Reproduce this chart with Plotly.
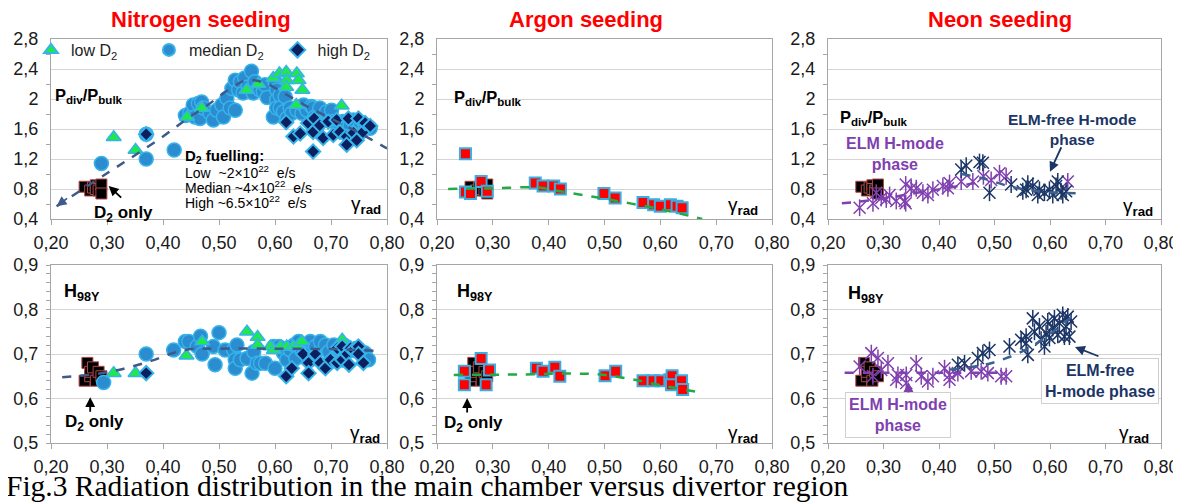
import plotly.graph_objects as go

# ---------------- DATA ----------------
# Nitrogen seeding, P_div/P_bulk vs gamma_rad
n_top_low_x = [0.312, 0.351, 0.443, 0.469, 0.549, 0.570, 0.597, 0.608, 0.620, 0.621, 0.620, 0.639, 0.642, 0.649, 0.638, 0.719]
n_top_low_y = [1.49, 1.32, 1.76, 1.88, 2.12, 2.20, 2.28, 2.34, 2.36, 2.25, 2.16, 2.34, 2.25, 2.12, 1.92, 1.91]
n_top_med_x = [0.29, 0.37, 0.37, 0.42, 0.44, 0.448, 0.454, 0.457, 0.463, 0.466, 0.469, 0.472, 0.484, 0.49, 0.496,
               0.505, 0.508, 0.514, 0.52, 0.523, 0.529, 0.529, 0.535, 0.538, 0.543, 0.546, 0.552, 0.558, 0.561,
               0.564, 0.573, 0.579, 0.582, 0.586, 0.597, 0.60, 0.603, 0.603, 0.603, 0.609, 0.609, 0.615, 0.618,
               0.621, 0.627, 0.63, 0.639, 0.648, 0.651, 0.657, 0.665, 0.668, 0.671, 0.68, 0.686, 0.692, 0.701,
               0.704, 0.716, 0.722, 0.734, 0.74, 0.752, 0.761, 0.77]
n_top_med_y = [1.14, 1.53, 1.20, 1.32, 1.78, 1.81, 1.92, 1.76, 1.94, 1.74, 1.96, 1.88, 1.81, 1.72, 1.85,
               1.92, 1.76, 2.01, 1.88, 2.14, 2.25, 1.85, 2.12, 2.23, 2.08, 2.28, 2.16, 2.37, 2.08,
               2.23, 2.12, 2.10, 2.19, 2.02, 1.76, 2.23, 2.12, 1.99, 1.88, 2.05, 1.88, 1.83, 2.03,
               1.74, 1.88, 1.81, 1.85, 1.81, 1.92, 1.85, 1.90, 1.88, 1.76, 1.88, 1.76, 1.83, 1.85,
               1.70, 1.63, 1.70, 1.65, 1.72, 1.63, 1.63, 1.61]
n_top_high_x = [0.37, 0.62, 0.633, 0.645, 0.659, 0.668, 0.668, 0.67, 0.68, 0.686, 0.695, 0.704, 0.71, 0.716,
                0.728, 0.728, 0.731, 0.74, 0.746, 0.749, 0.757, 0.761, 0.77]
n_top_high_y = [1.53, 1.69, 1.50, 1.54, 1.68, 1.56, 1.30, 1.74, 1.65, 1.48, 1.70, 1.52, 1.72, 1.56,
                1.50, 1.39, 1.74, 1.55, 1.45, 1.74, 1.56, 1.68, 1.64]
n_top_fit_x = [0.21, 0.30, 0.35, 0.40, 0.44, 0.48, 0.52, 0.55, 0.58, 0.62, 0.66, 0.70, 0.75, 0.80]
n_top_fit_y = [0.57, 1.01, 1.25, 1.50, 1.72, 1.92, 2.14, 2.25, 2.22, 2.06, 1.89, 1.74, 1.55, 1.34]

# Nitrogen seeding, H98Y
n_bot_low_x = [0.312, 0.351, 0.442, 0.47, 0.55, 0.569, 0.569, 0.592, 0.598, 0.61, 0.621, 0.633, 0.642, 0.648, 0.72]
n_bot_low_y = [0.657, 0.657, 0.696, 0.728, 0.750, 0.738, 0.720, 0.717, 0.709, 0.717, 0.717, 0.717, 0.720, 0.728, 0.732]
n_bot_med_x = [0.294, 0.37, 0.419, 0.44, 0.446, 0.461, 0.467, 0.47, 0.49, 0.493, 0.50, 0.511, 0.526, 0.529,
               0.529, 0.532, 0.538, 0.55, 0.559, 0.562, 0.568, 0.574, 0.583, 0.598, 0.60, 0.607, 0.615,
               0.621, 0.627, 0.634, 0.637, 0.642, 0.648, 0.657, 0.663, 0.663, 0.672, 0.681, 0.69, 0.696,
               0.705, 0.714, 0.723, 0.738, 0.746, 0.761, 0.767]
n_bot_med_y = [0.636, 0.700, 0.709, 0.728, 0.728, 0.717, 0.740, 0.700, 0.717, 0.676, 0.748, 0.709, 0.709, 0.687,
               0.668, 0.720, 0.687, 0.690, 0.657, 0.705, 0.679, 0.679, 0.679, 0.717, 0.668, 0.717, 0.702,
               0.687, 0.709, 0.720, 0.690, 0.728, 0.709, 0.720, 0.728, 0.687, 0.717, 0.728, 0.720, 0.705,
               0.720, 0.709, 0.720, 0.709, 0.713, 0.702, 0.687]
n_bot_high_x = [0.37, 0.62, 0.63, 0.65, 0.66, 0.66, 0.672, 0.681, 0.69, 0.699, 0.711, 0.711, 0.72, 0.72,
                0.729, 0.732, 0.735, 0.74, 0.749, 0.749, 0.758]
n_bot_high_y = [0.657, 0.650, 0.668, 0.700, 0.680, 0.657, 0.700, 0.680, 0.668, 0.687, 0.680, 0.713, 0.717, 0.687,
                0.700, 0.676, 0.713, 0.709, 0.717, 0.700, 0.680]
n_bot_fit_x = [0.22, 0.28, 0.33, 0.38, 0.42, 0.45, 0.50, 0.60, 0.70, 0.78]
n_bot_fit_y = [0.648, 0.655, 0.667, 0.685, 0.703, 0.711, 0.712, 0.712, 0.711, 0.707]

# D2-only reference discharges (shown in every panel)
d2_top_x = [0.26, 0.27, 0.275, 0.28, 0.28, 0.285, 0.29, 0.29]
d2_top_y = [0.83, 0.78, 0.82, 0.85, 0.80, 0.78, 0.86, 0.74]
d2_bot_x = [0.26, 0.265, 0.27, 0.27, 0.275, 0.28, 0.285, 0.29]
d2_bot_y = [0.640, 0.680, 0.650, 0.660, 0.670, 0.640, 0.660, 0.650]

# Argon seeding
ar_top_x = [0.251, 0.251, 0.26, 0.279, 0.29, 0.376, 0.39, 0.409, 0.421, 0.499, 0.519, 0.569, 0.588, 0.60, 0.618, 0.63, 0.639]
ar_top_y = [1.27, 0.76, 0.74, 0.90, 0.77, 0.88, 0.84, 0.84, 0.80, 0.74, 0.68, 0.62, 0.59, 0.57, 0.59, 0.57, 0.55]
ar_top_fit_x = [0.22, 0.30, 0.38, 0.42, 0.50, 0.60, 0.675]
ar_top_fit_y = [0.80, 0.81, 0.82, 0.77, 0.67, 0.53, 0.40]
ar_bot_x = [0.249, 0.249, 0.279, 0.288, 0.294, 0.378, 0.39, 0.411, 0.42, 0.501, 0.52, 0.569, 0.587, 0.601,
            0.617, 0.621, 0.62, 0.638, 0.64]
ar_bot_y = [0.661, 0.631, 0.690, 0.631, 0.664, 0.668, 0.661, 0.670, 0.650, 0.651, 0.661, 0.640, 0.640, 0.640,
            0.642, 0.651, 0.631, 0.640, 0.620]
ar_bot_fit_x = [0.23, 0.35, 0.45, 0.50, 0.55, 0.60, 0.665]
ar_bot_fit_y = [0.653, 0.654, 0.656, 0.653, 0.643, 0.630, 0.615]

# Neon seeding: ELM H-mode phase / ELM-free H-mode phase
ne_top_elm_x = [0.257, 0.281, 0.287, 0.296, 0.305, 0.311, 0.323, 0.338, 0.34, 0.34, 0.35, 0.359, 0.371, 0.38,
                0.389, 0.407, 0.416, 0.419, 0.44, 0.461, 0.48, 0.494, 0.509, 0.521, 0.632]
ne_top_elm_y = [0.55, 0.61, 0.75, 0.68, 0.66, 0.72, 0.64, 0.64, 0.86, 0.61, 0.81, 0.81, 0.75, 0.72,
                0.79, 0.84, 0.81, 0.88, 0.90, 0.90, 0.97, 0.92, 1.01, 0.97, 0.90]
ne_top_free_x = [0.44, 0.449, 0.473, 0.479, 0.491, 0.53, 0.551, 0.557, 0.56, 0.569, 0.578, 0.581, 0.59,
                 0.599, 0.605, 0.611, 0.614, 0.62, 0.623, 0.629]
ne_top_free_y = [1.06, 1.11, 1.16, 1.15, 0.75, 0.86, 0.77, 0.79, 0.87, 0.84, 0.72, 0.79, 0.75,
                 0.79, 0.72, 0.84, 0.90, 0.77, 0.72, 0.77]
ne_top_elm_fit_x = [0.225, 0.30, 0.36, 0.42, 0.48]
ne_top_elm_fit_y = [0.61, 0.67, 0.75, 0.82, 0.90]
ne_top_free_fit_x = [0.44, 0.48, 0.53, 0.58, 0.62, 0.66]
ne_top_free_fit_y = [1.00, 0.94, 0.83, 0.77, 0.75, 0.74]

ne_bot_elm_x = [0.257, 0.278, 0.281, 0.29, 0.296, 0.308, 0.323, 0.326, 0.341, 0.341, 0.359, 0.368, 0.38,
                0.389, 0.41, 0.419, 0.419, 0.434, 0.458, 0.476, 0.488, 0.512, 0.521]
ne_bot_elm_y = [0.672, 0.702, 0.650, 0.691, 0.664, 0.679, 0.642, 0.653, 0.635, 0.653, 0.679, 0.650, 0.638,
                0.650, 0.668, 0.642, 0.653, 0.657, 0.661, 0.661, 0.657, 0.650, 0.650]
ne_bot_free_x = [0.434, 0.446, 0.47, 0.479, 0.491, 0.527, 0.548, 0.557, 0.557, 0.56, 0.569, 0.572, 0.581,
                 0.584, 0.59, 0.593, 0.596, 0.599, 0.605, 0.608, 0.614, 0.617, 0.623, 0.626, 0.629, 0.632,
                 0.635, 0.638]
ne_bot_free_y = [0.676, 0.679, 0.691, 0.702, 0.709, 0.717, 0.732, 0.739, 0.724, 0.698, 0.780, 0.750, 0.762,
                 0.732, 0.717, 0.747, 0.773, 0.736, 0.758, 0.780, 0.743, 0.769, 0.788, 0.739, 0.762, 0.784,
                 0.739, 0.773]
ne_bot_elm_fit_x = [0.23, 0.30, 0.40, 0.52]
ne_bot_elm_fit_y = [0.658, 0.658, 0.658, 0.658]
ne_bot_free_fit_x = [0.42, 0.48, 0.52, 0.56, 0.60, 0.645]
ne_bot_free_fit_y = [0.665, 0.675, 0.69, 0.712, 0.745, 0.790]

x_ticks = [0.2, 0.3, 0.4, 0.5, 0.6, 0.7, 0.8]
x_tick_text = ["0,20", "0,30", "0,40", "0,50", "0,60", "0,70", "0,80"]
ytop_ticks = [0.4, 0.8, 1.2, 1.6, 2.0, 2.4, 2.8]
ytop_tick_text = ["0,4", "0,8", "1,2", "1,6", "2", "2,4", "2,8"]
ybot_ticks = [0.5, 0.6, 0.7, 0.8, 0.9]
ybot_tick_text = ["0,5", "0,6", "0,7", "0,8", "0,9"]

# ---------------- STYLE ----------------
FONT = "Liberation Sans, Arial, sans-serif"
C_MED, C_MED_L = "#2b8ccf", "#36b4ea"
C_LOW = "#1ee84a"
C_HIGH = "#0c1f5e"
C_D2_L = "#b04848"
C_AR, C_AR_L = "#ff0000", "#3aaee0"
C_PUR = "#8040b0"
C_NAVY = "#1b3566"
C_NFIT = "#3d5a8a"
C_AFIT = "#22aa44"
C_NEFIT = "#3b628f"

fig = go.Figure()

def sc(x, y, ax, **kw):
    xa = "x" if ax == 1 else f"x{ax}"
    ya = "y" if ax == 1 else f"y{ax}"
    kw.setdefault("showlegend", False)
    fig.add_trace(go.Scatter(x=x, y=y, xaxis=xa, yaxis=ya, **kw))

def d2(x, y, ax):
    sc(x, y, ax, mode="markers",
       marker=dict(symbol="square", size=11, color="#000000", line=dict(color=C_D2_L, width=1)))

def star(x, y, ax, color):
    for sym in ("x-thin-open", "line-ns-open"):
        sc(x, y, ax, mode="markers",
           marker=dict(symbol=sym, size=12, color=color, line=dict(color=color, width=1.5)))

def fit(x, y, ax, color):
    sc(x, y, ax, mode="lines", line=dict(color=color, width=2.5, dash="dash", shape="spline"))

NB = "\u00a0"
# Panel 1: Nitrogen, top
d2(d2_top_x, d2_top_y, 1)
sc(n_top_med_x, n_top_med_y, 1, mode="markers", name="median D<sub>2</sub>" + NB * 2, showlegend=True,
   legendrank=2, marker=dict(symbol="circle", size=14, color=C_MED, line=dict(color=C_MED_L, width=1.5)))
sc(n_top_low_x, n_top_low_y, 1, mode="markers", name="low D<sub>2</sub>" + NB * 6, showlegend=True,
   legendrank=1, marker=dict(symbol="triangle-up", size=13, color=C_LOW, line=dict(color=C_MED_L, width=1.5)))
sc(n_top_high_x, n_top_high_y, 1, mode="markers", name="high D<sub>2</sub>", showlegend=True, legendrank=3,
   marker=dict(symbol="diamond", size=11, color=C_HIGH, line=dict(color=C_MED_L, width=2)))
fit(n_top_fit_x, n_top_fit_y, 1, C_NFIT)

# Panel 4: Nitrogen, bottom
d2(d2_bot_x, d2_bot_y, 4)
sc(n_bot_med_x, n_bot_med_y, 4, mode="markers",
   marker=dict(symbol="circle", size=14, color=C_MED, line=dict(color=C_MED_L, width=1.5)))
sc(n_bot_low_x, n_bot_low_y, 4, mode="markers",
   marker=dict(symbol="triangle-up", size=13, color=C_LOW, line=dict(color=C_MED_L, width=1.5)))
sc(n_bot_high_x, n_bot_high_y, 4, mode="markers",
   marker=dict(symbol="diamond", size=11, color=C_HIGH, line=dict(color=C_MED_L, width=2)))
fit(n_bot_fit_x, n_bot_fit_y, 4, C_NFIT)

# Panels 2, 5: Argon
d2(d2_top_x, d2_top_y, 2)
sc(ar_top_x, ar_top_y, 2, mode="markers",
   marker=dict(symbol="square", size=11, color=C_AR, line=dict(color=C_AR_L, width=2)))
fit(ar_top_fit_x, ar_top_fit_y, 2, C_AFIT)
d2(d2_bot_x, d2_bot_y, 5)
sc(ar_bot_x, ar_bot_y, 5, mode="markers",
   marker=dict(symbol="square", size=11, color=C_AR, line=dict(color=C_AR_L, width=2)))
fit(ar_bot_fit_x, ar_bot_fit_y, 5, C_AFIT)

# Panels 3, 6: Neon
d2(d2_top_x, d2_top_y, 3)
star(ne_top_elm_x, ne_top_elm_y, 3, C_PUR)
star(ne_top_free_x, ne_top_free_y, 3, C_NAVY)
fit(ne_top_elm_fit_x, ne_top_elm_fit_y, 3, C_PUR)
fit(ne_top_free_fit_x, ne_top_free_fit_y, 3, C_NEFIT)
d2(d2_bot_x, d2_bot_y, 6)
star(ne_bot_elm_x, ne_bot_elm_y, 6, C_PUR)
star(ne_bot_free_x, ne_bot_free_y, 6, C_NAVY)
fit(ne_bot_elm_fit_x, ne_bot_elm_fit_y, 6, C_PUR)
fit(ne_bot_free_fit_x, ne_bot_free_fit_y, 6, C_NEFIT)

# ---------------- AXES ----------------
# page body has an 8 px margin: positions below are screen pixels, shifted back by OFF
W, H, OFF = 1181, 502, 8
def px(a, b):
    return [(a - OFF) / W, (b - OFF) / W]
def py(top, bot):
    return [1 - (bot - OFF) / H, 1 - (top - OFF) / H]
def pp(xs, ys):
    return (xs - OFF) / W, 1 - (ys - OFF) / H

cols = [px(51, 387), px(437, 772), px(828, 1161)]
rows = [py(39, 219), py(265, 443)]

axis_common = dict(showline=True, linecolor="#a6a6a6", linewidth=1, mirror=True, automargin=False,
                   tickfont=dict(family=FONT, size=18, color="#1a1a1a"), zeroline=False)
layout = {}
for i in range(6):
    r, c = divmod(i, 3)
    n = "" if i == 0 else str(i + 1)
    layout[f"xaxis{n}"] = dict(domain=cols[c], range=[0.2, 0.8], anchor=f"y{n}",
                               tickvals=x_ticks, ticktext=x_tick_text, showgrid=False,
                               ticks="outside", ticklen=5, tickcolor="#a6a6a6", ticklabelstandoff=2,
                               **axis_common)
    if r == 0:
        yk = dict(range=[0.4, 2.8], tickvals=ytop_ticks, ticktext=ytop_tick_text,
                  minor=dict(tickvals=[0.6, 1.0, 1.4, 1.8, 2.2, 2.6], ticks="outside", ticklen=4,
                             tickcolor="#a6a6a6", showgrid=False))
    else:
        yk = dict(range=[0.5, 0.9], tickvals=ybot_ticks, ticktext=ybot_tick_text,
                  minor=dict(dtick=0.02, ticks="outside", ticklen=4, tickcolor="#a6a6a6", showgrid=False))
    layout[f"yaxis{n}"] = dict(domain=rows[r], anchor=f"x{n}", showgrid=True, gridcolor="#d4d4d4",
                               gridwidth=1, ticks="", ticklabelstandoff=8, **yk, **axis_common)

# ---------------- ANNOTATIONS ----------------
ann = []
def txt(ax, x, y, text, size=15, color="#000000", bold=False, xanchor="center", yanchor="middle", **kw):
    n = "" if ax == 1 else str(ax)
    t = f"<b>{text}</b>" if bold else text
    ann.append(dict(xref=f"x{n}", yref=f"y{n}", x=x, y=y, text=t, showarrow=False,
                    xanchor=xanchor, yanchor=yanchor,
                    font=dict(family=FONT, size=size, color=color), **kw))

def arrow(ax, x, y, dx, dy, color="#000000"):
    n = "" if ax == 1 else str(ax)
    ann.append(dict(xref=f"x{n}", yref=f"y{n}", x=x, y=y, ax=dx, ay=dy, text="", showarrow=True,
                    arrowhead=2, arrowsize=1.1, arrowwidth=1.8, arrowcolor=color))

PDIV = "P<sub>div</sub>/P<sub>bulk</sub>"
GRAD = "γ<sub><b>rad</b></sub>"

# Nitrogen top
txt(1, 0.203, 2.04, PDIV, size=16.5, bold=True, xanchor="left")
txt(1, 0.436, 1.23, "D<sub>2</sub> fuelling:", size=15, bold=True, xanchor="left")
txt(1, 0.436, 1.03, "Low  ~2×10<sup>22</sup>  e/s", size=14, xanchor="left")
txt(1, 0.436, 0.83, "Median ~4×10<sup>22</sup>  e/s", size=14, xanchor="left")
txt(1, 0.436, 0.63, "High ~6.5×10<sup>22</sup>  e/s", size=14, xanchor="left")
txt(1, 0.762, 0.59, GRAD, size=19)
txt(1, 0.33, 0.47, "D<sub>2</sub> only", size=17, bold=True)
arrow(1, 0.303, 0.84, 14, 13)
arrow(1, 0.21, 0.57, 12, -9, C_NFIT)

# Nitrogen bottom
txt(4, 0.2196, 0.839, "H<sub>98Y</sub>", size=18, bold=True, xanchor="left")
txt(4, 0.277, 0.545, "D<sub>2</sub> only", size=17, bold=True)
arrow(4, 0.27, 0.603, 0, 16)
txt(4, 0.7607, 0.52, GRAD, size=19)

# Argon top / bottom
txt(2, 0.227, 2.01, PDIV, size=16.5, bold=True, xanchor="left")
txt(2, 0.748, 0.573, GRAD, size=19)
txt(5, 0.232, 0.839, "H<sub>98Y</sub>", size=18, bold=True, xanchor="left")
txt(5, 0.266, 0.543, "D<sub>2</sub> only", size=17, bold=True)
arrow(5, 0.254, 0.601, 0, 16)
txt(5, 0.748, 0.52, GRAD, size=19)

# Neon top / bottom
txt(3, 0.218, 1.75, PDIV, size=16.5, bold=True, xanchor="left")
txt(3, 0.321, 1.27, "ELM H-mode<br>phase", size=16, bold=True, color=C_PUR)
txt(3, 0.64, 1.59, "ELM-free H-mode<br>phase", size=15.5, bold=True, color=C_NAVY)
arrow(3, 0.60, 1.03, 12, -26, C_NAVY)
txt(3, 0.759, 0.56, GRAD, size=19)
txt(6, 0.232, 0.833, "H<sub>98Y</sub>", size=18, bold=True, xanchor="left")
txt(6, 0.326, 0.563, "ELM H-mode<br>phase", size=16, bold=True, color=C_PUR,
    bgcolor="#ffffff", bordercolor="#d0d0d0", borderwidth=1, borderpad=3)
arrow(6, 0.345, 0.637, 0, 12, C_PUR)
txt(6, 0.69, 0.639, "ELM-free<br>H-mode phase", size=16, bold=True, color=C_NAVY,
    bgcolor="#ffffff", bordercolor="#d0d0d0", borderwidth=1, borderpad=3)
arrow(6, 0.645, 0.716, 25, 10, C_NAVY)
txt(6, 0.751, 0.52, GRAD, size=19)

# Column titles and caption (paper)
for xc, t in [(201, "Nitrogen seeding"), (586, "Argon seeding"), (1000, "Neon seeding")]:
    xp, yp = pp(xc, 20)
    ann.append(dict(xref="paper", yref="paper", x=xp, y=yp, text=f"<b>{t}</b>",
                    showarrow=False, xanchor="center", yanchor="middle",
                    font=dict(family=FONT, size=22, color="#ff0000")))
xp, yp = pp(4, 486)
ann.append(dict(xref="paper", yref="paper", x=xp, y=yp,
                text="Fig.3 Radiation distribution in the main chamber versus divertor region",
                showarrow=False, xanchor="left", yanchor="middle",
                font=dict(family="Liberation Serif, Times New Roman, serif", size=29.5, color="#000000")))

lx, ly = pp(31, 50)
fig.update_layout(
    width=W, height=H, margin=dict(l=0, r=0, t=0, b=0, autoexpand=False),
    paper_bgcolor="#ffffff", plot_bgcolor="#ffffff",
    annotations=ann,
    legend=dict(orientation="h", x=lx, y=ly, xanchor="left", yanchor="middle",
                bgcolor="rgba(0,0,0,0)", font=dict(family=FONT, size=16, color="#222222"),
                itemsizing="constant", traceorder="normal"),
    **layout,
)

fig.write_html("out.html")
